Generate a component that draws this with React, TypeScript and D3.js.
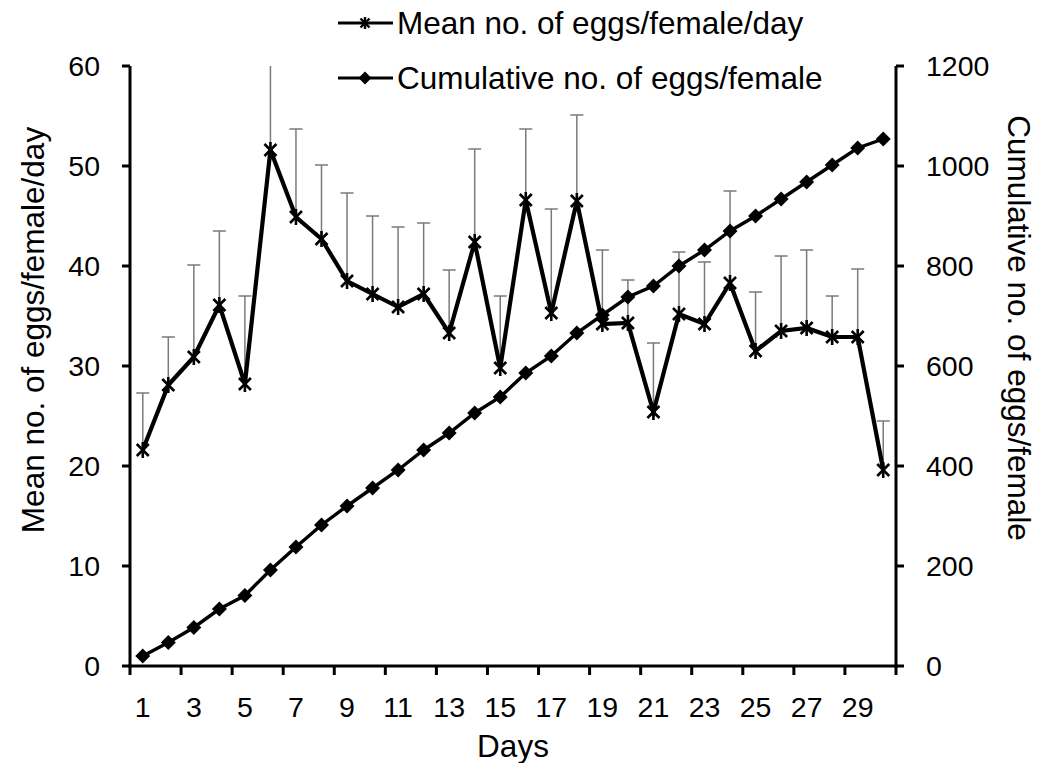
import React from "react";
import * as d3 from "d3";

// Oviposition over 30 days
const days: number[] = Array.from({ length: 30 }, (_, i) => i + 1);

const meanEggsPerDay: number[] = [
  21.6, 28.1, 30.9, 36.1, 28.2, 51.6, 44.9, 42.7, 38.5, 37.2,
  35.9, 37.2, 33.3, 42.4, 29.8, 46.6, 35.3, 46.5, 34.2, 34.3,
  25.4, 35.2, 34.2, 38.3, 31.5, 33.5, 33.8, 32.9, 32.9, 19.6,
];

const meanErr: number[] = [
  5.7, 4.8, 9.2, 7.4, 8.8, 10.5, 8.8, 7.4, 8.8, 7.8,
  8.0, 7.1, 6.3, 9.3, 7.2, 7.1, 10.4, 8.6, 7.4, 4.3,
  6.9, 6.2, 6.2, 9.2, 5.9, 7.5, 7.8, 4.1, 6.8, 4.9,
];

const cumulativeEggs: number[] = [
  20, 47, 77, 114, 141, 192, 238, 282, 320, 356,
  392, 432, 466, 506, 538, 586, 620, 666, 702, 738,
  760, 800, 832, 870, 900, 934, 968, 1002, 1036, 1054,
];

const leftTicks: number[] = [0, 10, 20, 30, 40, 50, 60];
const rightTicks: number[] = [0, 200, 400, 600, 800, 1000, 1200];
const xLabelDays: number[] = days.filter((d) => d % 2 === 1);
const xTickBoundaries: number[] = d3.range(0, 31, 2);

const legendItems = [
  { label: "Mean no. of eggs/female/day", marker: "star" },
  { label: "Cumulative no. of eggs/female", marker: "diamond" },
];

const FONT = "'Liberation Sans', Arial, Helvetica, sans-serif";

const W = 1041;
const H = 771;
const M = { left: 130, right: 896, top: 66, bottom: 666 };

function Star({ x, y, r, w = 2.4 }: { x: number; y: number; r: number; w?: number }) {
  const d = r * 0.75;
  return (
    <g stroke="#000" strokeWidth={w} strokeLinecap="butt">
      <line x1={x - d} y1={y - d} x2={x + d} y2={y + d} />
      <line x1={x - d} y1={y + d} x2={x + d} y2={y - d} />
      <line x1={x} y1={y - r} x2={x} y2={y + r} />
    </g>
  );
}

function Diamond({ x, y, r }: { x: number; y: number; r: number }) {
  return (
    <path
      d={`M${x},${y - r}L${x + r},${y}L${x},${y + r}L${x - r},${y}Z`}
      fill="#000"
    />
  );
}

export default function App() {
  const x = d3
    .scaleBand<number>()
    .domain(days)
    .range([M.left, M.right])
    .paddingInner(0)
    .paddingOuter(0);
  const step = x.step();
  const cx = (d: number) => (x(d) as number) + step / 2;
  const yL = d3.scaleLinear().domain([0, 60]).range([M.bottom, M.top]);
  const yR = d3.scaleLinear().domain([0, 1200]).range([M.bottom, M.top]);

  const meanLine = d3
    .line<number>()
    .x((_, i) => cx(days[i]))
    .y((v) => yL(v))(meanEggsPerDay) as string;
  const cumLine = d3
    .line<number>()
    .x((_, i) => cx(days[i]))
    .y((v) => yR(v))(cumulativeEggs) as string;

  return (
    <svg width={W} height={H} style={{ display: "block", margin: "-8px" }} fontFamily={FONT}>
      <defs>
        <clipPath id="plot-clip">
          <rect x={M.left} y={M.top} width={M.right - M.left} height={M.bottom - M.top} />
        </clipPath>
      </defs>
      <rect width={W} height={H} fill="#fff" />

      {/* upper error bars */}
      <g clipPath="url(#plot-clip)" stroke="#7a7a7a" strokeWidth={1.5}>
        {days.map((d, i) => {
          const top = yL(meanEggsPerDay[i] + meanErr[i]);
          return (
            <g key={d}>
              <line x1={cx(d)} x2={cx(d)} y1={yL(meanEggsPerDay[i])} y2={top} />
              <line x1={cx(d) - 6.5} x2={cx(d) + 6.5} y1={top} y2={top} />
            </g>
          );
        })}
      </g>

      {/* cumulative series */}
      <path d={cumLine} fill="none" stroke="#000" strokeWidth={3.4} />
      {days.map((d, i) => (
        <Diamond key={d} x={cx(d)} y={yR(cumulativeEggs[i])} r={7.5} />
      ))}

      {/* daily mean series */}
      <path d={meanLine} fill="none" stroke="#000" strokeWidth={4.2} strokeLinejoin="miter" />
      {days.map((d, i) => (
        <Star key={d} x={cx(d)} y={yL(meanEggsPerDay[i])} r={8} w={2.6} />
      ))}

      {/* axes */}
      <g stroke="#000" strokeWidth={3}>
        <line x1={M.left} x2={M.left} y1={M.top} y2={M.bottom + 1.5} />
        <line x1={M.right} x2={M.right} y1={M.top} y2={M.bottom + 1.5} />
        <line x1={M.left - 1.5} x2={M.right + 1.5} y1={M.bottom} y2={M.bottom} />
        {leftTicks.map((t) => (
          <line key={t} x1={M.left - 8} x2={M.left} y1={yL(t)} y2={yL(t)} />
        ))}
        {rightTicks.map((t) => (
          <line key={t} x1={M.right} x2={M.right + 8} y1={yR(t)} y2={yR(t)} />
        ))}
        {xTickBoundaries.map((k) => (
          <line key={k} x1={M.left + k * step} x2={M.left + k * step} y1={M.bottom} y2={M.bottom + 9} />
        ))}
      </g>

      <g fontSize={28.5} fill="#000">
        {leftTicks.map((t) => (
          <text key={t} x={100} y={yL(t)} dy="0.35em" textAnchor="end">
            {t}
          </text>
        ))}
        {rightTicks.map((t) => (
          <text key={t} x={926} y={yR(t)} dy="0.35em" textAnchor="start">
            {t}
          </text>
        ))}
        {xLabelDays.map((d) => (
          <text key={d} x={cx(d)} y={717} textAnchor="middle">
            {d}
          </text>
        ))}
      </g>

      {/* axis titles */}
      <g fontSize={31.5} fill="#000">
        <text x={513} y={757} textAnchor="middle">Days</text>
        <text transform="translate(44, 330) rotate(-90)" textAnchor="middle">
          Mean no. of eggs/female/day
        </text>
        <text transform="translate(1008, 328) rotate(90)" textAnchor="middle">
          Cumulative no. of eggs/female
        </text>
      </g>

      {/* legend */}
      <g fontSize={31.5} fill="#000">
        {legendItems.map((item, i) => {
          const ly = 23 + i * 55;
          return (
            <g key={item.label}>
              <line x1={338} x2={393} y1={ly} y2={ly} stroke="#000" strokeWidth={3} />
              {item.marker === "star" ? (
                <Star x={365} y={ly} r={6} />
              ) : (
                <Diamond x={365} y={ly} r={6.5} />
              )}
              <text x={397} y={ly} dy="0.35em">
                {item.label}
              </text>
            </g>
          );
        })}
      </g>
    </svg>
  );
}
